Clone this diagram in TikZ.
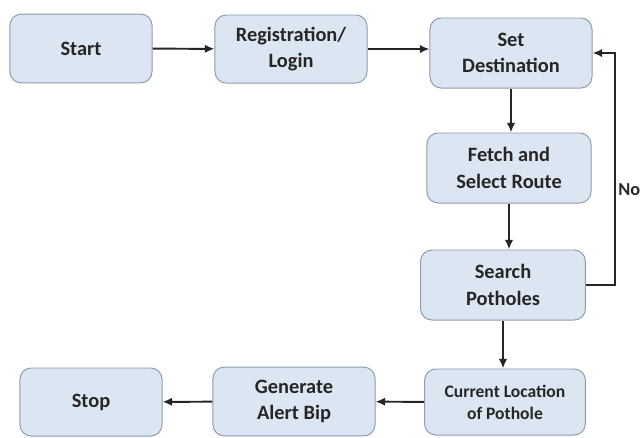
\documentclass[tikz,border=0pt]{standalone}
\usepackage{fontspec}
\setmainfont{Carlito}
\usetikzlibrary{arrows.meta}

\definecolor{boxblue}{HTML}{DCE6F2}
\definecolor{boxline}{HTML}{8E9CAD}
\definecolor{inkgray}{HTML}{262626}
\tikzset{
	stepbox/.style={draw=boxline, line width=0.7pt, fill=boxblue, rounded corners=8pt,
		align=center, font=\bfseries\fontsize{14.5}{19}\selectfont, text=inkgray,
		inner sep=2pt},
	flow/.style={line width=1.4pt, draw=inkgray, -{Latex[length=2.4mm,width=2.1mm]}}
}

\begin{document}
\begin{tikzpicture}[x=0.025cm, y=-0.025cm]
			%%%%% FRAME %%%%%
			\useasboundingbox (0,0) rectangle (640,437);
			
			%%%%% TOP ROW %%%%%
			\node[stepbox, minimum width=3.55cm, minimum height=1.72cm] (start) at (81,48.5) {Start};
			\node[stepbox, minimum width=3.8cm, minimum height=1.7cm] (login) at (291,49) {Registration/\\Login};
			\node[stepbox, minimum width=4.05cm, minimum height=1.75cm] (dest) at (511,53) {Set\\Destination};
			
			%%%%% COLUMN %%%%%
			\node[stepbox, minimum width=4.1cm, minimum height=1.75cm] (route) at (509,168) {Fetch and\\Select Route};
			\node[stepbox, minimum width=4.12cm, minimum height=1.75cm] (search) at (503,285) {Search\\Potholes};
			
			%%%%% BOTTOM ROW %%%%%
			\node[stepbox, minimum width=4.02cm, minimum height=1.65cm, font=\bfseries\fontsize{12.5}{15.5}\selectfont] (loc) at (505,402) {Current Location\\of Pothole};
			\node[stepbox, minimum width=4.05cm, minimum height=1.72cm] (alert) at (294,401.5) {Generate\\Alert Bip};
			\node[stepbox, minimum width=3.55cm, minimum height=1.7cm] (stop) at (91,402) {Stop};
			
			%%%%% ARROWS %%%%%
			\draw[flow] (start) -- (login);
			\draw[flow] (login.east) -- (login.east -| dest.west);
			\draw[flow] (dest.south) -- (route.north -| dest.south);
			\draw[flow] (route.south) -- (search.north -| route.south);
			\draw[flow] (search.south) -- (loc.north -| search.south);
			\draw[flow] (loc) -- (alert);
			\draw[flow] (alert) -- (stop);
			
			\coordinate (back) at (615,285);
			\draw[flow] (search.east) -- (back) -- (back |- dest.east) -- (dest.east);
			\node[anchor=west, font=\bfseries\fontsize{13}{17}\selectfont, text=inkgray, inner sep=0pt] (no) at (618,190) {No};
\end{tikzpicture}
\end{document}
